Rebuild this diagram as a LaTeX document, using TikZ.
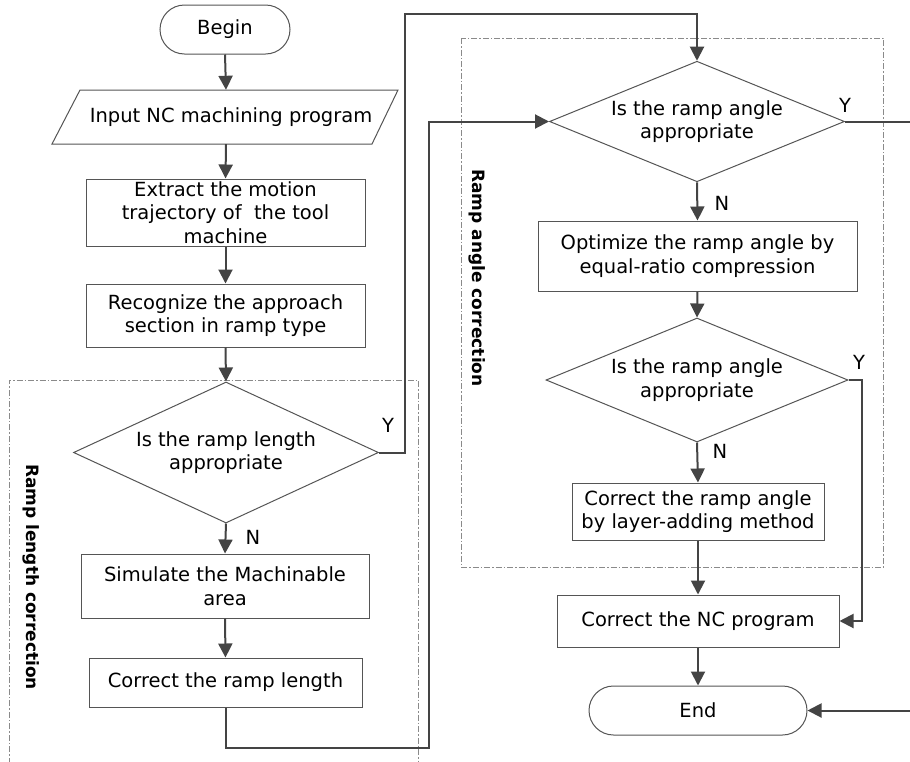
\documentclass[tikz,border=0pt]{standalone}
\usepackage{fontspec}
\setmainfont{DejaVu Sans}
\usetikzlibrary{shapes.geometric,arrows.meta}
\definecolor{boxc}{HTML}{555555}
\definecolor{linec}{HTML}{444444}
\definecolor{grpc}{HTML}{8A8A8A}
\begin{document}
\begin{tikzpicture}[x=1pt,y=-1pt,
  txt/.style={font=\fontsize{19.5}{23.5}\selectfont},
  box/.style={txt, draw=boxc, line width=1pt, fill=white, align=center, inner sep=2pt},
  term/.style={box, rounded corners=24.5pt},
  dec/.style={txt, diamond, draw=boxc, line width=1pt, fill=white, inner sep=0pt, shape aspect=2.2, align=center},
  conn/.style={draw=linec, line width=2pt, -{Triangle[length=14pt,width=14pt]}},
  wire/.style={draw=linec, line width=2pt},
  grp/.style={draw=grpc, line width=0.8pt, dash pattern=on 6pt off 2pt on 1.5pt off 2pt},
  grplbl/.style={font=\fontsize{17}{20}\selectfont\bfseries, rotate=-90},
  lbl/.style={txt}
]
\useasboundingbox (0,0) rectangle (910,761);
\clip (0,0) rectangle (910,761);

% group frames
\draw[grp] (9,775) -- (9,380) -- (418,380) -- (418,775);
\draw[grp] (461,38) rectangle (883,567);
\node[grplbl] (glen) at (31,577) {Ramp length correction};
\node[grplbl] (gang) at (477,278) {Ramp angle correction};

% left column
\node[term, minimum width=130pt, minimum height=49pt] (begin) at (225,29.5) {Begin};
\draw[boxc, line width=1pt, fill=white] (80,90) -- (398,90) -- (372,144) -- (52,144) -- cycle;
\node[txt, minimum width=318pt, minimum height=54pt, inner sep=0pt] (input) at (226,117) {\hspace*{10pt}Input NC machining program};
\node[box, minimum width=279pt, minimum height=67pt] (extract) at (225.5,212.5) {Extract the motion\\trajectory of\ \ the tool\\machine};
\node[box, minimum width=279pt, minimum height=63pt] (recog) at (225.5,315.5) {Recognize the approach\\section in ramp type};
\node[dec, minimum width=305pt, minimum height=141pt] (d1) at (226,452.5) {Is the ramp length\\appropriate};
\node[box, minimum width=288pt, minimum height=64pt] (sim) at (225,586) {Simulate the Machinable\\area};
\node[box, minimum width=273pt, minimum height=49pt] (clen) at (225.5,682.5) {Correct the ramp length};

% right column
\node[dec, minimum width=295pt, minimum height=117pt] (d2) at (697,121.5) {Is the ramp angle\\appropriate};
\node[box, minimum width=319pt, minimum height=70pt] (opt) at (697.5,256) {Optimize the ramp angle by\\equal-ratio compression};
\node[dec, minimum width=302pt, minimum height=124pt] (d3) at (697,380) {Is the ramp angle\\appropriate};
\node[box, minimum width=252pt, minimum height=57pt] (cang) at (698,511.5) {Correct the ramp angle\\by layer-adding method};
\node[box, minimum width=282pt, minimum height=52pt] (cnc) at (698,621) {Correct the NC program};
\node[term, minimum width=218pt, minimum height=49pt] (end) at (698,710.5) {End};

% straight connectors
\draw[conn] (begin.south) -- (input.north);
\draw[conn] (input.south) -- (extract.north);
\draw[conn] (extract.south) -- (recog.north);
\draw[conn] (recog.south) -- (d1.north);
\draw[conn] (d1.south) -- (sim.north);
\draw[conn] (sim.south) -- (clen.north);
\draw[conn] (d2.south) -- (opt.north);
\draw[conn] (opt.south) -- (d3.north);
\draw[conn] (d3.south) -- (cang.north);
\draw[conn] (cang.south) -- (cnc.north);
\draw[conn] (cnc.south) -- (end.north);

% routed connectors
\coordinate (y1a) at (405,14);
\draw[conn] (d1.east) -| (y1a) -| (d2.north);
\coordinate (r1) at (429,748);
\draw[conn] (clen.south) |- (r1) |- (d2.west);
\coordinate (r2) at (918,121.5);
\draw[conn] (d2.east) -- (r2) |- (end.east);
\coordinate (r3) at (862,380);
\draw[conn] (d3.east) -- (r3) |- (cnc.east);

% branch labels
\node[lbl] (ly1) at (388,425) {Y};
\node[lbl] (ln1) at (253,537) {N};
\node[lbl] (ly2) at (845,105) {Y};
\node[lbl] (ln2) at (722,203) {N};
\node[lbl] (ly3) at (859,362) {Y};
\node[lbl] (ln3) at (720,451) {N};
\end{tikzpicture}
\end{document}
